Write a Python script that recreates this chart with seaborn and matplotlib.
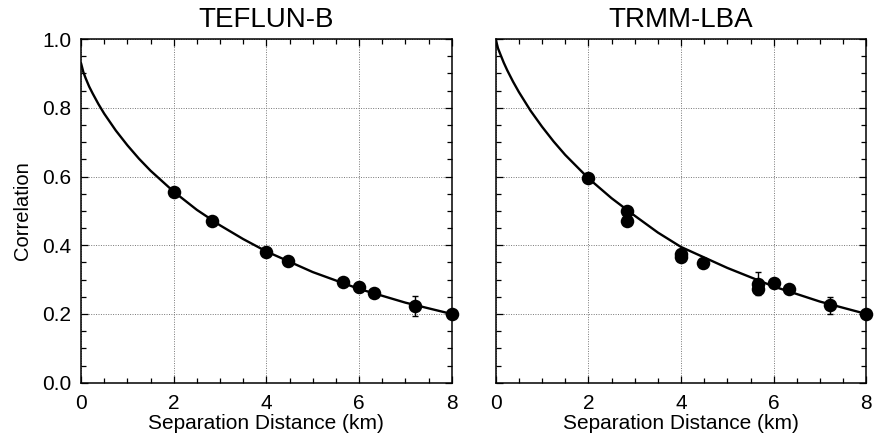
import numpy as np
import pandas as pd
import matplotlib
matplotlib.use("Agg")
import matplotlib.pyplot as plt
from matplotlib.ticker import MultipleLocator
import seaborn as sns

# ---- data ----
titles = ["TEFLUN-B", "TRMM-LBA"]

# fitted curves
curve_x = [0, 0.05, 0.1, 0.175, 0.25, 0.375, 0.5, 0.75, 1, 1.25, 1.5, 2, 2.5, 3, 3.5, 4, 5, 6, 7, 8]
teflun_curve_y = [0.930, 0.904, 0.886, 0.862, 0.842, 0.811, 0.783, 0.734, 0.691, 0.652,
                  0.617, 0.556, 0.503, 0.458, 0.418, 0.382, 0.322, 0.273, 0.233, 0.200]
trmm_curve_y = [1.000, 0.973, 0.956, 0.931, 0.909, 0.876, 0.846, 0.792, 0.745, 0.702,
                0.663, 0.595, 0.537, 0.486, 0.437, 0.395, 0.334, 0.280, 0.236, 0.200]

# observed correlations
teflun_x = [2.0, 2.83, 4.0, 4.47, 5.66, 6.0, 6.32, 7.21, 8.0]
teflun_y = [0.556, 0.470, 0.379, 0.354, 0.294, 0.278, 0.262, 0.223, 0.200]
teflun_err = [0.008, 0.008, 0.008, 0.008, 0.012, 0.014, 0.012, 0.029, 0.008]

trmm_x = [2.0, 2.83, 2.83, 4.0, 4.0, 4.47, 5.66, 5.66, 6.0, 6.32, 7.21, 8.0]
trmm_y = [0.595, 0.500, 0.470, 0.376, 0.365, 0.349, 0.288, 0.272, 0.289, 0.273, 0.225, 0.200]
trmm_err = [0.008, 0.008, 0.008, 0.008, 0.008, 0.008, 0.034, 0.010, 0.012, 0.010, 0.025, 0.008]

x_ticks = [0, 2, 4, 6, 8]
y_ticks = [0.0, 0.2, 0.4, 0.6, 0.8, 1.0]

# ---- plotting ----
sns.set_theme(style="white")
plt.rcParams['font.family'] = ['Liberation Sans', 'DejaVu Sans']
plt.rcParams['text.color'] = 'black'
plt.rcParams['axes.labelcolor'] = 'black'
plt.rcParams['xtick.color'] = 'black'
plt.rcParams['ytick.color'] = 'black'

fig = plt.figure(figsize=(8.75, 4.44), dpi=100)
axes = [fig.add_axes([0.0926, 0.138, 0.4237, 0.774]),
        fig.add_axes([0.5665, 0.138, 0.4237, 0.774])]

curves = [teflun_curve_y, trmm_curve_y]
pts = [(teflun_x, teflun_y, teflun_err), (trmm_x, trmm_y, trmm_err)]

for i, ax in enumerate(axes):
    cdf = pd.DataFrame({"x": curve_x, "y": curves[i]})
    px, py, pe = pts[i]
    pdf = pd.DataFrame({"x": px, "y": py, "e": pe})
    ax.errorbar(pdf["x"], pdf["y"], yerr=pdf["e"], fmt="none", ecolor="black",
                elinewidth=1.0, capsize=2.5, capthick=1.0, zorder=3)
    sns.lineplot(data=cdf, x="x", y="y", ax=ax, color="black", linewidth=1.7,
                 zorder=4, sort=True, estimator=None)
    sns.scatterplot(data=pdf, x="x", y="y", ax=ax, color="black", s=95,
                    edgecolor="black", linewidth=0, zorder=5, clip_on=False)

    ax.set_xlim(0, 8)
    ax.set_ylim(0, 1.0)
    ax.set_xticks(x_ticks)
    ax.set_yticks(y_ticks)
    ax.xaxis.set_minor_locator(MultipleLocator(0.5))
    ax.yaxis.set_minor_locator(MultipleLocator(0.05))
    ax.tick_params(which="both", direction="in", top=True, right=True,
                   left=True, bottom=True, color="black", width=0.9)
    ax.tick_params(which="major", length=5, labelsize=15)
    ax.tick_params(axis="x", which="major", pad=8)
    ax.tick_params(axis="y", which="major", pad=7)
    ax.tick_params(which="minor", length=3.5)
    ax.grid(True, which="major", linestyle=(0, (1, 1.5)), color="#777777",
            linewidth=0.7)
    for s in ax.spines.values():
        s.set_color("black")
        s.set_linewidth(1.1)
    ax.set_title(titles[i], fontsize=20, pad=9)
    ax.set_xlabel("Separation Distance (km)", fontsize=15, labelpad=1)
    if i == 0:
        ax.set_yticklabels([f"{v:.1f}" for v in y_ticks])
        ax.set_ylabel("Correlation", fontsize=14.5, labelpad=7)
    else:
        ax.set_yticklabels([])
        ax.set_ylabel("")

fig.savefig("out.png", dpi=100)
